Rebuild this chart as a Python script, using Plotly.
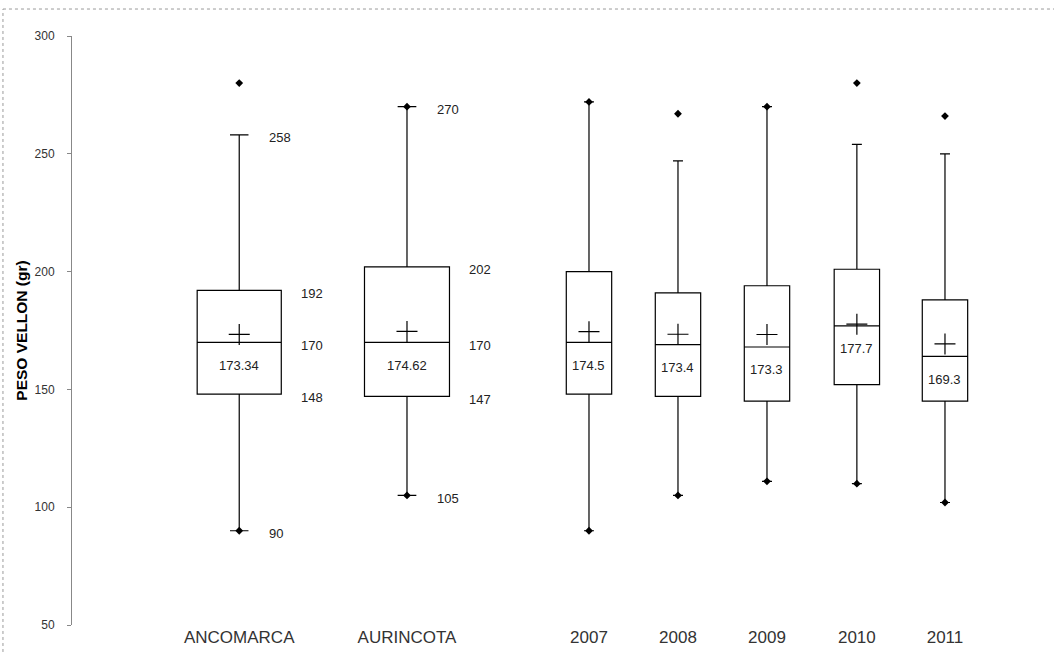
import plotly.graph_objects as go

# Groups (two localities and five years)
categories = ["ANCOMARCA", "AURINCOTA", "2007", "2008", "2009", "2010", "2011"]

# Five-number summaries of fleece weight (gr)
q1_vals = [148, 147, 148, 147, 145, 152, 145]
median_vals = [170, 170, 170, 169, 168, 177, 164]
q3_vals = [192, 202, 200, 191, 194, 201, 188]
upper_whisker = [258, 270, 272, 247, 270, 254, 250]
lower_whisker = [90, 105, 90, 105, 111, 110, 102]
mean_vals = [173.34, 174.62, 174.5, 173.4, 173.3, 177.7, 169.3]
max_vals = [280, 270, 272, 267, 270, 280, 266]
min_vals = [90, 105, 90, 105, 111, 110, 102]

# Groups whose quartiles and whisker ends are written beside the box
labelled_groups = ["ANCOMARCA", "AURINCOTA"]

# Layout: horizontal slot of each box and its width (axis units)
x_pos = [1.07, 2.955, 5, 6, 7, 8.01, 9]
box_w = [0.945, 0.955, 0.51, 0.51, 0.51, 0.51, 0.51]

FONT = "Liberation Sans"
NARROW = "Liberation Sans Narrow, Liberation Sans"

fig = go.Figure()

for i, cat in enumerate(categories):
    fig.add_trace(go.Box(
        x=[x_pos[i]],
        q1=[q1_vals[i]], median=[median_vals[i]], q3=[q3_vals[i]],
        lowerfence=[lower_whisker[i]], upperfence=[upper_whisker[i]],
        width=box_w[i], whiskerwidth=0.22,
        boxpoints=False, fillcolor="white",
        line=dict(color="black", width=1.2),
        name=cat, showlegend=False, hoverinfo="skip",
    ))

# Minimum and maximum points
fig.add_trace(go.Scatter(
    x=x_pos + x_pos, y=min_vals + max_vals, mode="markers",
    marker=dict(symbol="diamond", size=6, color="black"),
    showlegend=False, hoverinfo="skip",
))

# Mean markers
fig.add_trace(go.Scatter(
    x=x_pos, y=mean_vals, mode="markers",
    marker=dict(symbol="cross-thin", size=15,
                line=dict(color="black", width=1.2)),
    showlegend=False, hoverinfo="skip",
))

annotations = []
for i, cat in enumerate(categories):
    # mean value written below the median line
    annotations.append(dict(
        x=x_pos[i], y=median_vals[i], xref="x", yref="y",
        text=f"{mean_vals[i]}", showarrow=False,
        xanchor="center", yanchor="middle", yshift=-23,
        font=dict(family=FONT, size=13, color="#222"),
    ))
    if cat in labelled_groups:
        right = x_pos[i] + box_w[i] / 2
        for v in (q3_vals[i], median_vals[i], q1_vals[i]):
            annotations.append(dict(
                x=right, y=v, xref="x", yref="y", text=str(v),
                showarrow=False, xanchor="left", yanchor="middle",
                xshift=18, yshift=-3,
                font=dict(family=FONT, size=13, color="#222"),
            ))
        for v in (upper_whisker[i], lower_whisker[i]):
            annotations.append(dict(
                x=x_pos[i], y=v, xref="x", yref="y", text=str(v),
                showarrow=False, xanchor="left", yanchor="middle",
                xshift=28, yshift=-3,
                font=dict(family=FONT, size=13, color="#222"),
            ))

# Thin frame along the top and left edges
frame = dict(color="#9a9a9a", width=1, dash="dot")
shapes = [
    dict(type="line", xref="paper", yref="paper",
         x0=-0.0703, x1=1.0, y0=1.0458, y1=1.0458, line=frame),
    dict(type="line", xref="paper", yref="paper",
         x0=-0.0703, x1=-0.0703, y0=-0.0458, y1=1.0458, line=frame),
]

fig.update_layout(
    width=1054, height=652,
    margin=dict(l=72, r=0, t=36, b=27),
    paper_bgcolor="white", plot_bgcolor="white",
    boxmode="overlay",
    annotations=annotations, shapes=shapes,
    xaxis=dict(
        range=[-0.809, 10.225], showgrid=False, zeroline=False,
        showline=False, ticks="",
        tickvals=x_pos, ticktext=categories,
        tickfont=dict(family=NARROW, size=17, color="#333"),
    ),
    yaxis=dict(
        range=[50, 300], tickvals=[50, 100, 150, 200, 250, 300],
        showgrid=False, zeroline=False,
        showline=True, linecolor="#888", linewidth=1,
        ticks="outside", ticklen=4, tickcolor="#888",
        ticklabelstandoff=10,
        tickfont=dict(family=FONT, size=12, color="#333"),
        title=dict(text="PESO VELLON (gr)", standoff=3,
                   font=dict(family=FONT, size=15.5, color="black",
                             weight="bold")),
        automargin=False,
    ),
)

fig.write_html("out.html")
